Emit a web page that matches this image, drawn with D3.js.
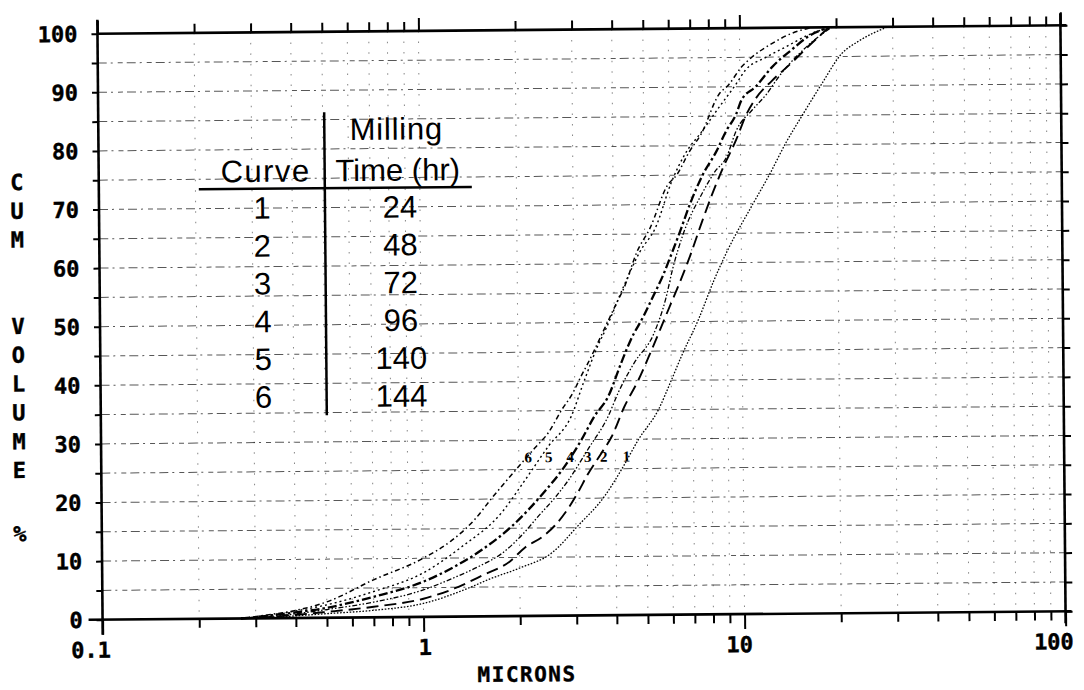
<!DOCTYPE html>
<html><head><meta charset="utf-8">
<script src="https://cdn.jsdelivr.net/npm/d3@7"></script>
<style>body{margin:0;background:#fff}</style>
</head><body>
<svg id="c" width="1084" height="690"></svg>
<script>
// ---------- data ----------
const xTickValues = [0.1, 1, 10, 100];
const xTickLabels = ["0.1", "1", "10", "100"];
const yTickValues = [0, 10, 20, 30, 40, 50, 60, 70, 80, 90, 100];
const yTickLabels = ["0", "10", "20", "30", "40", "50", "60", "70", "80", "90", "100"];
const yTitle = "CUM  VOLUME %";
const xTitle = "MICRONS";

const curve1 = [[0.27,0],[0.35,0.2],[0.5,0.7],[0.7,1.2],[1.0,2.3],[1.39,4.9],[1.6,6.3],[2.0,8.2],[2.53,10.8],[3.03,15.2],[3.7,20.4],[4.19,25],[4.73,30],[5.46,35],[6.0,40],[6.45,44],[7.34,50.5],[8.2,57],[9.04,62],[10.9,70],[12.3,75],[13.9,80.5],[15.6,85],[18.0,90.4],[20.8,95.5],[23.5,97.6],[29,100]];
const curve2 = [[0.27,0],[0.35,0.3],[0.5,1.0],[0.7,1.8],[1.0,3.1],[1.25,4.8],[1.53,7],[1.86,9.3],[2.08,11.7],[2.36,13.5],[2.58,15.4],[2.85,18.4],[3.05,21],[3.27,24],[3.6,27.5],[3.9,30.5],[4.28,35.6],[4.73,40],[5.2,45],[5.79,51],[6.45,57],[6.93,61.3],[7.55,67],[8.18,72],[8.78,76],[9.71,81],[10.4,85],[11.2,88],[12.6,91],[14.5,94],[16.1,96.4],[19.0,100]];
const curve3 = [[0.27,0],[0.35,0.4],[0.5,1.4],[0.7,2.6],[1.0,4.6],[1.23,6.5],[1.5,8.6],[1.77,10.8],[2.05,14],[2.3,17.1],[2.6,20.3],[2.85,23.1],[3.3,28.5],[3.81,34],[4.1,38],[4.6,43],[5.31,48],[5.8,54],[6.1,59],[6.6,65],[7.6,72],[8.3,75.5],[9.04,78],[9.71,82.5],[10.9,86],[12.1,88.7],[13.2,91.6],[15.3,95.5],[17.7,98.5],[19.4,100]];
const curve4 = [[0.27,0],[0.35,0.6],[0.5,1.7],[0.7,3.5],[1.0,6.0],[1.25,8.5],[1.53,11.4],[1.9,15.4],[2.41,21.3],[2.72,24.8],[3.14,30],[3.45,34],[3.81,37.3],[4.19,43],[4.5,47],[4.94,51],[5.31,54.5],[5.7,58],[6.0,61],[6.45,65.4],[6.93,70],[7.61,75],[8.41,79],[9.04,82.5],[9.71,85.3],[10.1,87.7],[11.2,90],[12.6,93.3],[14.5,96.2],[16.4,98.5],[19.0,100]];
const curve5 = [[0.27,0],[0.33,0.5],[0.4,1.2],[0.5,2.2],[0.7,4.4],[1.0,7.5],[1.32,11.9],[1.77,17.8],[2.04,22.4],[2.48,29],[2.92,34],[3.21,40],[3.55,46],[3.76,48.8],[4.28,56],[4.83,62],[5.4,66],[6.1,74],[6.7,78.5],[7.61,82.5],[8.59,86.5],[9.71,90.4],[10.4,92.8],[12.1,95],[13.9,96.7],[16.8,99],[19.4,100]];
const curve6 = [[0.27,0],[0.33,0.6],[0.4,1.3],[0.5,2.7],[0.7,6.4],[1.0,10],[1.23,13],[1.45,16.5],[1.64,20.1],[1.86,23.6],[2.24,28.6],[2.48,31.3],[2.72,35],[2.96,38],[3.14,40.8],[3.30,43],[3.55,46.5],[3.81,50],[4.1,53.6],[4.28,55.6],[4.73,62],[5.2,66],[5.91,73.3],[6.31,75],[6.93,79],[7.55,82],[8.59,88.7],[9.24,90.4],[10.1,93.3],[10.9,95],[12.6,97.3],[14.5,99],[16.8,100]];

const curveNames = ["1", "2", "3", "4", "5", "6"];
const labelX = [4.33, 3.68, 3.28, 2.89, 2.48, 2.14];
const labelY = 26.2;
const tableCurves = ["1", "2", "3", "4", "5", "6"];
const tableTimes = ["24", "48", "72", "96", "140", "144"];
const tableHeader = ["Curve", "Milling", "Time (hr)"];

// ---------- layout ----------
const svg = d3.select("#c");
const g = svg.append("g").attr("transform", "rotate(-0.5 581 322)");
const X0 = 100, X1 = 1063, Y0 = 615.5, Y1 = 29.5;
const x = d3.scaleLog().domain([0.1, 100]).range([X0, X1]);
const y = d3.scaleLinear().domain([0, 100]).range([Y0, Y1]);
const mono = "'DejaVu Sans Mono', monospace";

// grid
const gridY = d3.range(5, 100, 5);
g.append("g").selectAll("line").data(gridY).join("line")
  .attr("x1", X0).attr("x2", X1).attr("y1", d => y(d)).attr("y2", d => y(d))
  .attr("stroke", "#111").attr("stroke-width", 1).attr("opacity", 0.7)
  .attr("stroke-dasharray", "9,4,2,5,5,4");
const minorVals = [];
[0.1, 1, 10].forEach(dec => { for (let k = 2; k <= 9; k++) minorVals.push(dec * k); });
const gridX = minorVals.concat([1, 10]);
g.append("g").selectAll("line").data(gridX).join("line")
  .attr("x1", d => x(d)).attr("x2", d => x(d)).attr("y1", Y1).attr("y2", Y0)
  .attr("stroke", "#111").attr("stroke-width", 1).attr("opacity", 0.5)
  .attr("stroke-dasharray", "1.5,9");

// axes
const axisW = 2.6;
const axBottom = g.append("g").attr("transform", `translate(0,${Y0})`)
  .call(d3.axisBottom(x).tickValues(minorVals).tickSize(9).tickFormat(""));
const axBottomMaj = g.append("g").attr("transform", `translate(0,${Y0})`)
  .call(d3.axisBottom(x).tickValues(xTickValues).tickSize(15).tickFormat(""));
const axTop = g.append("g").attr("transform", `translate(0,${Y1})`)
  .call(d3.axisTop(x).tickValues(minorVals).tickSize(9).tickFormat(""));
const axTopMaj = g.append("g").attr("transform", `translate(0,${Y1})`)
  .call(d3.axisTop(x).tickValues(xTickValues).tickSize(13).tickFormat(""));
const axLeft = g.append("g").attr("transform", `translate(${X0},0)`)
  .call(d3.axisLeft(y).tickValues(d3.range(0, 101, 5)).tickSize(6).tickFormat(""));
const axRight = g.append("g").attr("transform", `translate(${X1},0)`)
  .call(d3.axisRight(y).tickValues(d3.range(0, 101, 5)).tickSize(7).tickFormat(""));
[axBottom, axBottomMaj, axTop, axTopMaj, axLeft, axRight].forEach(a => {
  a.select(".domain").remove();
  a.selectAll(".tick line").attr("stroke", "#000").attr("stroke-width", 2);
});
// frame lines
g.append("line").attr("x1", X0 - 14).attr("x2", X1 + 6).attr("y1", Y0).attr("y2", Y0).attr("stroke", "#000").attr("stroke-width", axisW);
g.append("line").attr("x1", X0).attr("x2", X1 + 6).attr("y1", Y1).attr("y2", Y1).attr("stroke", "#000").attr("stroke-width", axisW);
g.append("line").attr("x1", X0).attr("x2", X0).attr("y1", Y1 - 14).attr("y2", Y0 + 15).attr("stroke", "#000").attr("stroke-width", axisW);
g.append("line").attr("x1", X1).attr("x2", X1).attr("y1", Y1 - 12).attr("y2", Y0 + 12).attr("stroke", "#000").attr("stroke-width", axisW);

// tick labels
g.append("g").selectAll("text").data(yTickValues).join("text")
  .attr("x", 80).attr("y", d => y(d) + 8).attr("text-anchor", "end")
  .attr("font-family", mono).attr("font-weight", "bold").attr("font-size", 22)
  .attr("stroke", "#000").attr("stroke-width", 0.4)
  .text((d, i) => yTickLabels[i]);
g.append("g").selectAll("text").data(xTickValues).join("text")
  .attr("x", d => x(d) + 8).attr("y", Y0 + 38).attr("text-anchor", "end")
  .attr("font-family", mono).attr("font-weight", "bold").attr("font-size", 22)
  .attr("stroke", "#000").attr("stroke-width", 0.4)
  .text((d, i) => xTickLabels[i]);

// titles
g.append("text").attr("x", 524).attr("y", 681).attr("text-anchor", "middle")
  .attr("font-family", mono).attr("font-weight", "bold").attr("font-size", 21)
  .attr("letter-spacing", 1.5).attr("stroke", "#000").attr("stroke-width", 0.4)
  .text(xTitle);
g.append("g").selectAll("text").data(yTitle.split("")).join("text")
  .attr("x", 18).attr("y", (d, i) => 185 + i * 28.8 + (d === "%" ? 6 : 0))
  .attr("text-anchor", "middle")
  .attr("font-family", mono).attr("font-weight", "bold").attr("font-size", 22)
  .attr("stroke", "#000").attr("stroke-width", 0.4)
  .text(d => d);

// curves
const curves = [curve1, curve2, curve3, curve4, curve5, curve6];
const styles = [
  {w: 1.3, dash: "1.6,1.6"},
  {w: 1.9, dash: "12,6"},
  {w: 1.3, dash: "5,2,1.5,2,1.5,2"},
  {w: 2.3, dash: "9,3,2.5,3"},
  {w: 1.4, dash: "2,3"},
  {w: 1.5, dash: "5,3,1.5,3"}
];
const line = d3.line().x(d => x(d[0])).y(d => y(d[1])).curve(d3.curveMonotoneX);
g.append("g").selectAll("path").data(curves).join("path")
  .attr("d", line).attr("fill", "none").attr("stroke", "#000")
  .attr("stroke-width", (d, i) => styles[i].w)
  .attr("stroke-dasharray", (d, i) => styles[i].dash);

// curve labels
g.append("g").selectAll("text").data(curveNames).join("text")
  .attr("x", (d, i) => x(labelX[i])).attr("y", y(labelY)).attr("text-anchor", "middle")
  .attr("font-family", "'Liberation Serif', serif").attr("font-weight", "bold").attr("font-size", 15)
  .text(d => d);

// table inset
const tf = "'Liberation Sans', Arial, sans-serif";
const fs = 31;
g.append("line").attr("x1", 326).attr("x2", 326).attr("y1", 110).attr("y2", 413).attr("stroke", "#000").attr("stroke-width", 2.5);
g.append("line").attr("x1", 200).attr("x2", 473).attr("y1", 186).attr("y2", 186).attr("stroke", "#000").attr("stroke-width", 2.5);
g.append("text").attr("x", 267).attr("y", 179).attr("text-anchor", "middle").attr("font-family", tf).attr("font-size", fs).attr("letter-spacing", 1.5).text(tableHeader[0]);
g.append("text").attr("x", 398).attr("y", 138).attr("text-anchor", "middle").attr("font-family", tf).attr("font-size", fs).attr("letter-spacing", 0.8).text(tableHeader[1]);
g.append("text").attr("x", 399).attr("y", 179).attr("text-anchor", "middle").attr("font-family", tf).attr("font-size", fs).text(tableHeader[2]);
g.append("g").selectAll("text").data(tableCurves).join("text")
  .attr("x", 263).attr("y", (d, i) => 216 + i * 37.8).attr("text-anchor", "middle")
  .attr("font-family", tf).attr("font-size", fs).text(d => d);
g.append("g").selectAll("text").data(tableTimes).join("text")
  .attr("x", 401).attr("y", (d, i) => 216 + i * 37.8).attr("text-anchor", "middle")
  .attr("font-family", tf).attr("font-size", fs).text(d => d);
</script>
</body></html>
